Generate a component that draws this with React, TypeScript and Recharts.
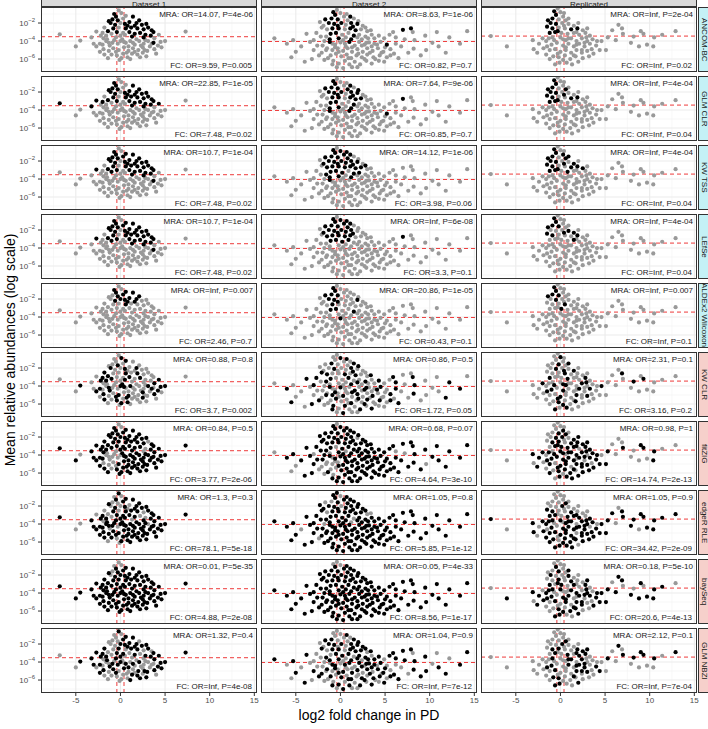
import React from "react";
import { ScatterChart, Scatter, XAxis, YAxis, ReferenceLine } from "recharts";

const FONT = '"Liberation Sans", Arial, Helvetica, sans-serif';
const GREY_PT = "#999999";
const BLACK_PT = "#000000";
const RED = "#EE3B3B";
const GRID_MAJOR = "#EBEBEB";
const GRID_MINOR = "#F3F3F3";
const BORDER = "#333333";
const AXIS_TEXT = "#4D4D4D";
const STRIP_GREY = "#D9D9D9";
const STRIP_CYAN = "#C4F1F6";
const STRIP_PINK = "#F6D0CB";

// layout (px)
const LEFT = 41, TOP = 7, COL_W = 216, COL_GAP = 4, ROW_H = 65, ROW_GAP = 4, YW = 40, XH = 16, PAD_R = 8;

// ---- data ----
const DATASETS = ["Dataset 1", "Dataset 2", "Replicated"];
const METHODS = ["ANCOM-BC", "GLM CLR", "KW TSS", "LEfSe", "ALDEx2 Wilcoxon", "KW CLR", "fitZIG", "edgeR RLE", "baySeq", "GLM NBZI"];
const COMPOSITIONAL = 5; // first five methods get the cyan strip

// axes: x = log2 fold change, y = log10 mean relative abundance
const X_DOMAIN: [number, number] = [-8.9, 15.3];
const Y_DOMAIN: [number, number] = [-7.44, -0.22];
const X_TICKS = [-5, 0, 5, 10, 15];
const X_MINOR = [-7.5, -2.5, 2.5, 7.5, 12.5];
const Y_TICKS = [-6, -4, -2];
const Y_MINOR = [-7, -5, -3, -1];
const FC_CUTS = [-0.4, 0.4];
const MEDIAN_MRA = [-3.52, -4.05, -3.45];

// [log2FC, log10 MRA]  groups: left tail | upper core | lower core | right tail | extra core
const D1_POINTS = [
  [-6.8, -3.25], [-5.0, -4.6], [-4.5, -3.95], [-3.25, -3.6], [-3.0, -4.3], [-2.7, -2.95], [-2.2, -3.4], [-1.9, -3.7],
  [-0.2, -0.6], [0.1, -0.9], [-0.5, -1.3], [-0.9, -1.6], [-0.3, -1.7], [0.3, -1.5], [1.4, -1.3],
  [-1.1, -2.0], [-0.6, -2.2], [0.0, -2.0], [0.5, -2.1], [1.0, -1.9], [1.8, -2.0], [2.4, -2.2],
  [1.6, -2.3], [-1.4, -2.9], [-0.8, -2.6], [-0.2, -2.5], [0.6, -2.6], [1.2, -2.5], [1.9, -2.6],
  [2.6, -2.7], [3.1, -2.5], [-1.0, -3.2], [-0.4, -3.0], [0.3, -3.1], [1.0, -3.0], [1.6, -3.2],
  [2.2, -3.1], [2.8, -3.3], [0.0, -3.4], [0.5, -3.3], [1.3, -3.5], [-1.6, -3.4], [2.6, -3.6],
  [-2.3, -4.3], [-1.6, -4.0], [-1.2, -4.5], [-0.7, -3.9], [-0.3, -4.3], [0.2, -3.8], [0.6, -4.2], [1.1, -4.0], [1.6, -4.4], [2.1, -4.0],
  [2.6, -4.3], [3.1, -4.0], [3.3, -4.6], [-1.9, -4.9], [-1.3, -5.1], [-0.8, -4.8], [-0.2, -5.0], [0.4, -4.7], [0.9, -5.1], [1.4, -4.8],
  [2.0, -5.0], [2.5, -4.7], [3.0, -5.1], [-1.0, -5.5], [-0.4, -5.6], [0.3, -5.4], [0.8, -5.8], [1.3, -5.4], [1.9, -5.5], [2.5, -5.3],
  [-0.1, -6.1], [0.0, -4.0], [-0.5, -3.6], [1.8, -3.8], [-1.8, -5.5], [2.9, -5.7], [-2.7, -4.6], [-2.3, -5.2],
  [3.7, -3.0], [3.8, -3.7], [3.7, -4.2], [4.3, -3.3], [4.5, -4.1], [4.6, -4.7], [4.0, -5.4], [5.0, -4.0], [7.3, -2.95],
  [-0.7, -1.0], [0.6, -1.2], [-1.3, -1.8], [0.8, -2.3], [2.1, -1.7], [-1.8, -2.5], [2.9, -2.1], [3.5, -2.8], [-2.0, -3.1], [3.4, -3.4],
  [-1.3, -4.2], [0.9, -4.6], [2.3, -4.5], [3.8, -4.9], [-2.0, -4.4], [-0.5, -5.2], [1.6, -5.2], [2.7, -5.0], [0.1, -5.9], [1.1, -6.0],
  [-1.5, -3.8], [0.4, -4.1], [1.4, -4.2], [2.8, -3.9], [3.5, -4.3], [-0.9, -4.2], [0.7, -5.3], [2.2, -5.8], [-1.4, -5.9], [4.2, -4.5],
];

const D2_POINTS = [
  [-7.4, -3.7], [-6.0, -4.3], [-5.3, -3.9], [-5.5, -5.8], [-5.0, -5.2], [-4.4, -4.6], [-3.8, -3.2], [-3.4, -4.1], [-3.0, -3.9], [-3.0, -5.0],
  [-2.6, -4.5], [-2.4, -5.6], [-2.2, -3.5], [-2.3, -1.9], [-2.1, -2.5], [-1.8, -6.1], [-1.8, -4.0], [-1.6, -5.0], [-4.0, -6.3], [-3.2, -6.0],
  [-0.4, -0.55], [0.0, -0.9], [-0.6, -1.1], [0.4, -1.3], [-1.0, -1.5], [-0.3, -1.6], [0.8, -1.7], [1.5, -1.5], [-1.3, -2.0], [-0.7, -2.1],
  [0.1, -2.0], [0.6, -2.2], [1.2, -2.0], [1.9, -2.1], [2.5, -2.3], [-1.5, -2.7], [-0.9, -2.6], [-0.2, -2.6], [0.5, -2.7], [1.1, -2.6],
  [1.7, -2.8], [2.3, -2.7], [3.0, -2.9], [-1.1, -3.2], [-0.5, -3.1], [0.2, -3.3], [0.9, -3.1], [1.5, -3.4], [2.1, -3.3], [2.8, -3.5],
  [3.5, -3.3], [-1.6, -3.5], [-0.2, -3.7], [0.6, -3.6], [1.2, -3.8], [2.4, -3.8], [3.8, -3.7], [4.3, -3.4],
  [-1.2, -4.1], [-0.6, -4.4], [0.0, -4.15], [0.5, -4.3], [1.0, -4.1], [1.6, -4.5], [2.1, -4.1], [2.7, -4.4], [3.2, -4.15], [3.8, -4.3],
  [4.5, -4.1], [5.2, -4.4], [-1.5, -4.8], [-0.9, -5.0], [-0.3, -4.8], [0.3, -5.1], [0.8, -4.8], [1.3, -5.2], [1.9, -4.9], [2.5, -5.2],
  [3.0, -4.8], [3.6, -5.1], [4.2, -4.8], [4.8, -5.2], [5.6, -4.9], [-1.1, -5.6], [-0.5, -5.4], [0.1, -5.7], [0.7, -5.5], [1.2, -5.9],
  [1.8, -5.6], [2.4, -5.8], [3.0, -5.5], [3.7, -5.8], [4.4, -5.6], [5.2, -5.8], [6.0, -5.4], [-0.8, -6.2], [-0.2, -6.5], [0.5, -6.2],
  [1.0, -6.6], [1.6, -6.3], [2.2, -6.6], [2.9, -6.2], [3.5, -6.5], [4.3, -6.2], [-0.4, -6.9], [0.3, -7.0], [1.3, -6.9], [6.5, -5.9], [6.8, -4.6],
  [5.9, -3.0], [7.0, -2.75], [7.9, -2.6], [8.1, -3.0], [7.2, -3.8], [8.3, -3.9], [9.5, -3.4], [10.3, -4.2], [8.2, -4.85], [9.6, -5.0],
  [11.0, -4.6], [12.2, -3.6], [14.2, -2.9], [13.4, -4.3], [9.0, -5.6], [10.8, -3.0], [11.8, -5.3], [7.6, -5.3], [6.2, -3.6], [5.5, -3.3],
  [-0.8, -0.8], [0.7, -1.0], [-1.7, -1.6], [1.1, -1.3], [2.0, -1.8], [-1.9, -2.3], [2.8, -2.5], [3.4, -2.8], [-0.3, -2.3], [1.4, -2.4],
  [-2.0, -4.5], [-0.9, -4.3], [1.3, -4.7], [2.4, -4.5], [3.5, -4.6], [4.1, -4.4], [5.0, -4.7], [6.2, -4.3], [-2.1, -5.3], [-0.2, -5.2],
  [2.0, -5.4], [3.3, -5.3], [4.6, -5.3], [5.6, -5.6], [-1.4, -5.9], [0.9, -5.9], [2.7, -6.0], [3.9, -6.0], [-0.9, -6.6], [1.9, -6.9],
  [4.9, -6.3], [-2.7, -3.1], [-1.2, -3.8], [0.3, -3.9], [1.9, -3.6], [3.1, -3.7], [4.9, -3.7], [-0.6, -4.7], [0.6, -4.6], [2.9, -4.2],
];

const REP_POINTS = [
  [-7.8, -3.45], [-6.0, -4.6], [-3.1, -3.9], [-3.0, -4.9], [-2.4, -4.3], [-2.0, -3.7], [-1.9, -4.8], [-2.6, -5.3], [-1.6, -5.5],
  [-0.3, -0.4], [0.0, -0.8], [-0.5, -1.1], [0.3, -1.3], [-0.9, -1.5], [-0.2, -1.6], [0.6, -1.7], [-1.1, -2.0], [-0.5, -2.1], [0.2, -2.0],
  [0.9, -2.1], [1.5, -2.3], [-0.9, -2.6], [-0.2, -2.5], [0.5, -2.6], [1.2, -2.7], [1.9, -2.6], [2.5, -2.8], [-1.2, -3.1], [-0.6, -3.0],
  [0.1, -3.1], [0.8, -3.2], [1.5, -3.1], [2.1, -3.3], [2.8, -3.1], [3.3, -3.4],
  [-1.3, -3.7], [-0.7, -3.9], [0.0, -3.6], [0.6, -3.9], [1.2, -3.7], [1.8, -4.0], [2.4, -3.7], [3.0, -4.0], [3.6, -3.8], [-1.0, -4.4],
  [-0.4, -4.2], [0.3, -4.5], [0.9, -4.3], [1.5, -4.6], [2.1, -4.3], [2.7, -4.6], [3.3, -4.3], [4.0, -4.5], [-1.2, -5.0], [-0.6, -4.9],
  [0.0, -5.2], [0.6, -5.0], [1.2, -5.3], [1.8, -5.0], [2.4, -5.3], [3.0, -5.1], [3.7, -5.4], [-0.8, -5.7], [-0.2, -5.8], [0.5, -5.6],
  [1.1, -6.0], [1.7, -5.7], [2.5, -5.9], [-0.1, -6.4], [0.7, -6.4], [4.4, -5.0], [4.6, -4.0],
  [5.1, -5.0], [5.8, -2.8], [6.5, -2.2], [6.9, -2.6], [7.0, -3.2], [7.9, -4.2], [8.8, -4.6], [9.0, -2.9], [9.3, -3.2], [9.7, -4.4],
  [10.5, -3.6], [11.4, -3.3], [12.9, -2.9], [6.2, -3.9], [5.3, -3.6], [8.2, -3.5], [10.4, -4.6],
  [-0.7, -0.7], [0.4, -0.9], [-1.4, -1.7], [0.9, -1.5], [2.0, -2.0], [-1.5, -2.4], [3.0, -2.6], [0.4, -2.3], [-0.3, -2.9], [1.8, -3.0],
  [-1.6, -4.0], [0.3, -3.8], [2.7, -4.2], [3.5, -4.9], [-1.5, -4.6], [0.6, -4.7], [1.8, -4.4], [2.4, -5.0], [-0.3, -5.4], [1.5, -5.6],
  [-1.2, -6.0], [0.3, -6.1], [2.0, -6.3], [3.2, -5.7], [-0.6, -6.6], [1.3, -6.6], [4.1, -4.0], [-0.9, -3.6], [0.9, -3.7], [2.9, -3.6],
];

// 1 = taxon flagged by the method (black), one string per method, same point order as above
const D1_BLACK = [
  "00000000 | 0011101 1101111 1110111 1101011 1100101 | 0000000000 0000000000 0000000000 00000000 | 101000000 | 1011101101 0000000000 0000000000",
  "10010100 | 0011101 1101111 1110111 1101011 1100101 | 0000000000 0000000000 0000000000 00000000 | 100100000 | 1011101111 0000000000 0000000000",
  "00000100 | 0011111 1101111 1110111 1111011 1100101 | 0000000000 0000000000 0000000000 00000000 | 101000000 | 1111101101 0000000000 0000000000",
  "00000100 | 0011111 1101111 1110111 1111011 1100101 | 0000000000 0000000000 0000000000 00000000 | 101000000 | 1111101101 0000000000 0000000000",
  "00000000 | 0010111 0111110 1000100 0000000 0000000 | 0000000000 0000000000 0000000000 00000000 | 000000000 | 1101100000 0000000000 0000000000",
  "00100010 | 0100100 1001010 0100101 0010010 1001010 | 1010010100 0101001010 0100101001 01001010 | 010110010 | 0100010010 1001010010 0100101001",
  "11011111 | 0011111 1111111 1111111 1011111 1011110 | 1000011111 1110001111 1110111111 10011111 | 111111111 | 1111111111 0111101111 0111101111",
  "10011010 | 1010011 0101011 1010111 0101111 0011011 | 1101011111 1011111111 1111011111 01111111 | 111111111 | 0110101111 1111111111 1111111101",
  "11111111 | 0010111 0111111 1111111 1111111 1111111 | 1111111111 1111111111 1111111111 11111111 | 111111111 | 0111111111 1111111111 1111111111",
  "00111110 | 1000011 0011111 1001011 0101101 0110010 | 1010101001 0001010100 1010000110 01100101 | 110111011 | 0101011011 0101010101 1010010101",
];
const D2_BLACK = [
  "0000000000 0000000000 | 0010110011 1011001101 1001100100 00101000 | 1000100000 0100000000 0000000000 0000000000 00000000000 | 0110000000 0000000000 | 1011000011 0000000000 0000000000 0010000000",
  "0000000000 0000000000 | 0010111011 1011001101 1101100100 00101000 | 1000100000 0100000000 0000000000 0000000000 00000000000 | 0100000000 0000000000 | 1011100011 0000000000 0000000000 0010000000",
  "0000000000 0000000000 | 0111111011 1111011111 1101110110 01101000 | 1000000000 0000000000 0000000000 0000000000 00000000000 | 0000000000 0000000000 | 1111011011 0000000000 0000000000 0010000000",
  "0000000000 0000000000 | 0111111011 1110011111 0001111000 00000000 | 0000000000 0000000000 0000000000 0000000000 00000000000 | 0100000000 0000000000 | 1111010011 0000000000 0000000000 0000000000",
  "0000000000 0000000000 | 0010110011 0001001000 0001100100 00000000 | 0010000000 0000000000 0000000000 0000000000 00000000000 | 0000000000 0000000000 | 1010000010 0000000000 0000000000 0000000000",
  "0101001010 0100100101 | 0100100101 0010010010 1001001001 01001001 | 1010010100 1001010010 0100101001 0010100101 00101001010 | 1001010010 0101001010 | 0100100101 0010010100 1001001010 0100100101",
  "0110011101 1011101011 | 0111111111 1110111111 1111011111 11101111 | 1111111111 1100011111 1111100111 1111111011 11111111111 | 1111011110 1111111101 | 1111111111 1011111101 1111111111 1101111011",
  "1111101111 1011110111 | 1011011111 0111101111 1101111011 11110111 | 1111111111 1111111111 1111111111 1111111111 11111111111 | 1111111111 1111111111 | 1101111011 1111111111 1111111111 1111111111",
  "1111111111 1111111111 | 0011111111 1111111111 1111111111 11111111 | 1111111111 1111111111 1111111111 1111111111 11111111111 | 1111111111 1111111111 | 0111111111 1111111111 1111111111 1111111111",
  "1010101001 0100100010 | 0000100111 1011101101 1100111011 01101011 | 0101101011 1010010110 1011010101 0101101010 10101001010 | 1110111011 1011101011 | 0110101101 0101101011 0101011010 1010110101",
];
const REP_BLACK = [
  "000000000 | 0010100110 0010011011 000000 | 0000000000 0000000000 0000000000 0000000 | 00000000000000000 | 1010010010 0000000000 0000000000",
  "000000000 | 0010101110 0010011011 000000 | 0000000000 0000000000 0000000000 0000000 | 00000000000000000 | 1010010110 0000000000 0000000000",
  "000000000 | 0011101110 0110011111 010000 | 0000000000 0000000000 0000000000 0000000 | 00000000000000000 | 1011010110 0000000000 0000000000",
  "000000000 | 0010110000 1110001000 001000 | 0000000000 0000000000 0000000000 0000000 | 00000000000000000 | 1010010100 0000000000 0000000000",
  "000000000 | 0010110010 0000100000 100000 | 0000000000 0000000000 0000000000 0000000 | 00000000000000000 | 1010000000 0000000000 0000000000",
  "000001000 | 0100010010 0100100010 010010 | 0101001001 0100101000 1001010010 0100101 | 00010000100000010 | 0001000100 0100100010 0100100001",
  "001011010 | 0001011011 0111011101 111011 | 1110111011 1111101110 1101111011 1011110 | 10001001101000101 | 0000101011 0110110111 1011011011",
  "101101101 | 0000001001 0010010011 011101 | 1011101111 0111110111 1110111101 1111111 | 11011101111110111 | 0000010001 1011011101 1101110111",
  "011010110 | 0010010100 1001010010 101010 | 1010110101 0110101101 0101101010 1101011 | 10110111011101101 | 0001001010 1010110101 0110101101",
  "000000000 | 0000001001 0011001101 010110 | 0000101001 0010110101 0001010110 0001010 | 00101001101010110 | 0000001001 0010101101 0010100110",
];

const D1_MRA = ["MRA: OR=14.07, P=4e-06", "MRA: OR=22.85, P=1e-05", "MRA: OR=10.7, P=1e-04", "MRA: OR=10.7, P=1e-04", "MRA: OR=Inf, P=0.007", "MRA: OR=0.88, P=0.8", "MRA: OR=0.84, P=0.5", "MRA: OR=1.3, P=0.3", "MRA: OR=0.01, P=5e-35", "MRA: OR=1.32, P=0.4"];
const D1_FC = ["FC: OR=9.59, P=0.005", "FC: OR=7.48, P=0.02", "FC: OR=7.48, P=0.02", "FC: OR=7.48, P=0.02", "FC: OR=2.46, P=0.7", "FC: OR=3.7, P=0.002", "FC: OR=3.77, P=2e-06", "FC: OR=78.1, P=5e-18", "FC: OR=4.88, P=2e-08", "FC: OR=Inf, P=4e-08"];
const D2_MRA = ["MRA: OR=8.63, P=1e-06", "MRA: OR=7.64, P=9e-06", "MRA: OR=14.12, P=1e-06", "MRA: OR=Inf, P=6e-08", "MRA: OR=20.86, P=1e-05", "MRA: OR=0.86, P=0.5", "MRA: OR=0.68, P=0.07", "MRA: OR=1.05, P=0.8", "MRA: OR=0.05, P=4e-33", "MRA: OR=1.04, P=0.9"];
const D2_FC = ["FC: OR=0.82, P=0.7", "FC: OR=0.85, P=0.7", "FC: OR=3.98, P=0.06", "FC: OR=3.3, P=0.1", "FC: OR=0.43, P=0.1", "FC: OR=1.72, P=0.05", "FC: OR=4.64, P=3e-10", "FC: OR=5.85, P=1e-12", "FC: OR=8.56, P=1e-17", "FC: OR=Inf, P=7e-12"];
const REP_MRA = ["MRA: OR=Inf, P=2e-04", "MRA: OR=Inf, P=4e-04", "MRA: OR=Inf, P=4e-04", "MRA: OR=Inf, P=4e-04", "MRA: OR=Inf, P=0.007", "MRA: OR=2.31, P=0.1", "MRA: OR=0.98, P=1", "MRA: OR=1.05, P=0.9", "MRA: OR=0.18, P=5e-10", "MRA: OR=2.12, P=0.1"];
const REP_FC = ["FC: OR=Inf, P=0.02", "FC: OR=Inf, P=0.04", "FC: OR=Inf, P=0.04", "FC: OR=Inf, P=0.04", "FC: OR=Inf, P=0.1", "FC: OR=3.16, P=0.2", "FC: OR=14.74, P=2e-13", "FC: OR=34.42, P=2e-09", "FC: OR=20.6, P=4e-13", "FC: OR=Inf, P=7e-04"];

const POINTS = [D1_POINTS, D2_POINTS, REP_POINTS];
const BLACK = [D1_BLACK, D2_BLACK, REP_BLACK];
const MRA = [D1_MRA, D2_MRA, REP_MRA];
const FC = [D1_FC, D2_FC, REP_FC];

const dot = (fill: string) => (p: any) => <circle cx={p.cx} cy={p.cy} r={2.1} fill={fill} />;

function LogTick(props: any) {
  const { x, y, payload } = props;
  return (
    <text x={x} y={y} dy={3} textAnchor="end" fontFamily={FONT} fill={AXIS_TEXT} fontSize={8}>
      10<tspan dy={-4} fontSize={6}>{String(payload.value).replace("-", "\u2212")}</tspan>
    </text>
  );
}

const colX = (c: number) => LEFT + c * (COL_W + COL_GAP);
const rowY = (r: number) => TOP + r * (ROW_H + ROW_GAP);

function Panel({ r, c }: { r: number; c: number }) {
  const flags = BLACK[c][r].replace(/[^01]/g, "");
  const grey: { x: number; y: number }[] = [];
  const black: { x: number; y: number }[] = [];
  POINTS[c].forEach(([x, y], i) => (flags[i] === "1" ? black : grey).push({ x, y }));
  const showY = c === 0;
  const showX = r === METHODS.length - 1;
  const px = colX(c), py = rowY(r);
  const note = { position: "absolute" as const, left: px, fontSize: 8, lineHeight: "8px", color: "#1A1A1A", textAlign: "right" as const, whiteSpace: "nowrap" as const };
  return (
    <>
      <div style={{ position: "absolute", left: px - (showY ? YW : 0), top: py }}>
        <ScatterChart width={COL_W + (showY ? YW : 0) + PAD_R} height={ROW_H + (showX ? XH : 0)} margin={{ top: 0, right: PAD_R, bottom: 0, left: 0 }}>
          <XAxis type="number" dataKey="x" domain={X_DOMAIN} ticks={X_TICKS} hide={!showX} height={XH} axisLine={false}
            tickSize={3} tickMargin={1} tickLine={{ stroke: BORDER }} interval={0} allowDataOverflow
            tick={{ fontSize: 8, fill: AXIS_TEXT, fontFamily: FONT }} />
          <YAxis type="number" dataKey="y" domain={Y_DOMAIN} ticks={Y_TICKS} hide={!showY} width={YW} axisLine={false}
            tickSize={3} tickMargin={3} tickLine={{ stroke: BORDER }} interval={0} allowDataOverflow tick={<LogTick />} />
          {X_MINOR.map((v) => <ReferenceLine key={"xm" + v} x={v} stroke={GRID_MINOR} strokeWidth={0.6} />)}
          {Y_MINOR.map((v) => <ReferenceLine key={"ym" + v} y={v} stroke={GRID_MINOR} strokeWidth={0.6} />)}
          {X_TICKS.map((v) => <ReferenceLine key={"xM" + v} x={v} stroke={GRID_MAJOR} strokeWidth={1.1} />)}
          {Y_TICKS.map((v) => <ReferenceLine key={"yM" + v} y={v} stroke={GRID_MAJOR} strokeWidth={1.1} />)}
          <Scatter data={grey} shape={dot(GREY_PT)} isAnimationActive={false} />
          <Scatter data={black} shape={dot(BLACK_PT)} isAnimationActive={false} />
          {FC_CUTS.map((v) => <ReferenceLine key={"fc" + v} x={v} stroke={RED} strokeWidth={1} strokeDasharray="4 3" />)}
          <ReferenceLine y={MEDIAN_MRA[c]} stroke={RED} strokeWidth={1} strokeDasharray="4 3" />
        </ScatterChart>
      </div>
      <div style={{ position: "absolute", left: px, top: py, width: COL_W, height: ROW_H, border: `1px solid ${BORDER}`, boxSizing: "border-box", pointerEvents: "none" }} />
      <div style={{ ...note, top: py + 3.5, width: COL_W - 4 }}>{MRA[c][r]}</div>
      <div style={{ ...note, top: py + 55, width: COL_W - 5 }}>{FC[c][r]}</div>
    </>
  );
}

export default function App() {
  const plotBottom = rowY(METHODS.length - 1) + ROW_H;
  return (
    <div style={{ position: "absolute", left: 0, top: 0, width: 708, height: 729, overflow: "hidden", background: "#fff", fontFamily: FONT }}>
      {DATASETS.map((d, c) => (
        <div key={d} style={{ position: "absolute", left: colX(c), top: -6, width: COL_W, height: 13, background: STRIP_GREY, border: `1px solid ${BORDER}`, boxSizing: "border-box" }}>
          <div style={{ position: "absolute", left: 0, right: 0, top: 5.5, fontSize: 8, lineHeight: "8px", textAlign: "center", color: "#1A1A1A" }}>{d}</div>
        </div>
      ))}
      {METHODS.map((m, r) => (
        <div key={m} style={{ position: "absolute", left: 698, top: rowY(r), width: 14, height: ROW_H, background: r < COMPOSITIONAL ? STRIP_CYAN : STRIP_PINK, border: `1px solid ${BORDER}`, boxSizing: "border-box", display: "flex", alignItems: "center", justifyContent: "flex-start" }}>
          <div style={{ writingMode: "vertical-rl", fontSize: 8, lineHeight: "8px", color: "#1A1A1A", whiteSpace: "nowrap", marginLeft: 1 }}>{m}</div>
        </div>
      ))}
      {METHODS.map((m, r) => DATASETS.map((d, c) => <Panel key={m + d} r={r} c={c} />))}
      <div style={{ position: "absolute", left: LEFT, width: 3 * COL_W + 2 * COL_GAP, top: plotBottom + 15, textAlign: "center", fontSize: 14, lineHeight: "15px", color: "#000" }}>
        log2 fold change in PD
      </div>
      <div style={{ position: "absolute", left: 10, top: (TOP + plotBottom) / 2, transform: "translate(-50%, -50%) rotate(-90deg)", fontSize: 14, lineHeight: "15px", whiteSpace: "nowrap", color: "#000" }}>
        Mean relative abundances (log scale)
      </div>
    </div>
  );
}
